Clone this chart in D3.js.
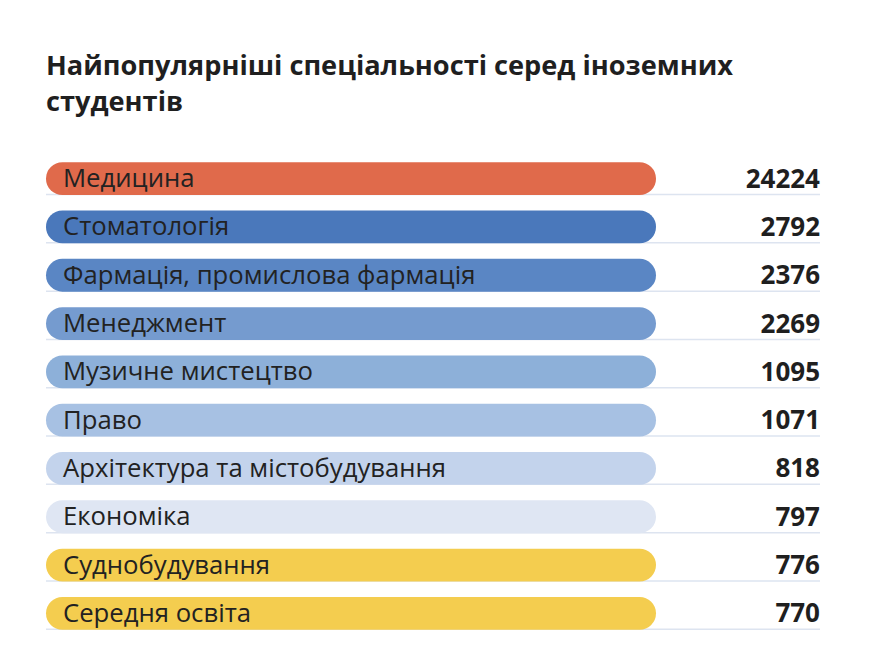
<!DOCTYPE html>
<html><head><meta charset="utf-8">
<script src="https://cdn.jsdelivr.net/npm/d3@7"></script>
<style>body{margin:0;background:#fff;}svg{display:block;}</style>
</head><body>
<script>
const categories = ["Медицина","Стоматологія","Фармація, промислова фармація","Менеджмент","Музичне мистецтво","Право","Архітектура та містобудування","Економіка","Суднобудування","Середня освіта"];
const values = [24224, 2792, 2376, 2269, 1095, 1071, 818, 797, 776, 770];
const colors = ["#e06a4b","#4a78bb","#5a86c4","#759bcf","#8db0d9","#a7c1e3","#c3d3ec","#dfe6f3","#f4cd4f","#f4cd4f"];
const titleLines = ["Найпопулярніші спеціальності серед іноземних","студентів"];

const W = 872, H = 668;
const svg = d3.select("body").append("svg").attr("width", W).attr("height", H);
const font = "'Open Sans', 'Noto Sans', sans-serif";

svg.append("g").selectAll("text").data(titleLines).join("text")
  .attr("x", 46).attr("y", (d,i)=>75 + i*36)
  .attr("font-family", font).attr("font-weight", 700).attr("font-size", 27.2)
  .attr("fill", "#1f1f1f").text(d=>d);

const y = d3.scaleBand().domain(categories).range([154.5, 637.5]).paddingInner(0.32).paddingOuter(0.16);
const barX0 = 46, barX1 = 656, lineX1 = 820;

const rows = svg.append("g").selectAll("g").data(categories).join("g")
  .attr("transform", d=>`translate(0,${y(d)})`);

const bh = y.bandwidth();
rows.append("line").attr("x1", barX0).attr("x2", lineX1).attr("y1", bh-0.5).attr("y2", bh-0.5)
  .attr("stroke", "#dde4f0").attr("stroke-width", 1.5);
rows.append("rect").attr("x", barX0).attr("width", barX1-barX0).attr("height", bh)
  .attr("rx", bh/2).attr("fill", (d,i)=>colors[i]);
rows.append("text").attr("x", 63).attr("y", bh/2 + 8.5)
  .attr("font-family", font).attr("font-size", 25.7).attr("fill", "#222").text(d=>d);
rows.append("text").attr("x", lineX1).attr("y", bh/2 + 9).attr("text-anchor", "end")
  .attr("font-family", font).attr("font-weight", 700).attr("font-size", 26).attr("fill", "#1f1f1f")
  .text((d,i)=>values[i]);
</script>
</body></html>
